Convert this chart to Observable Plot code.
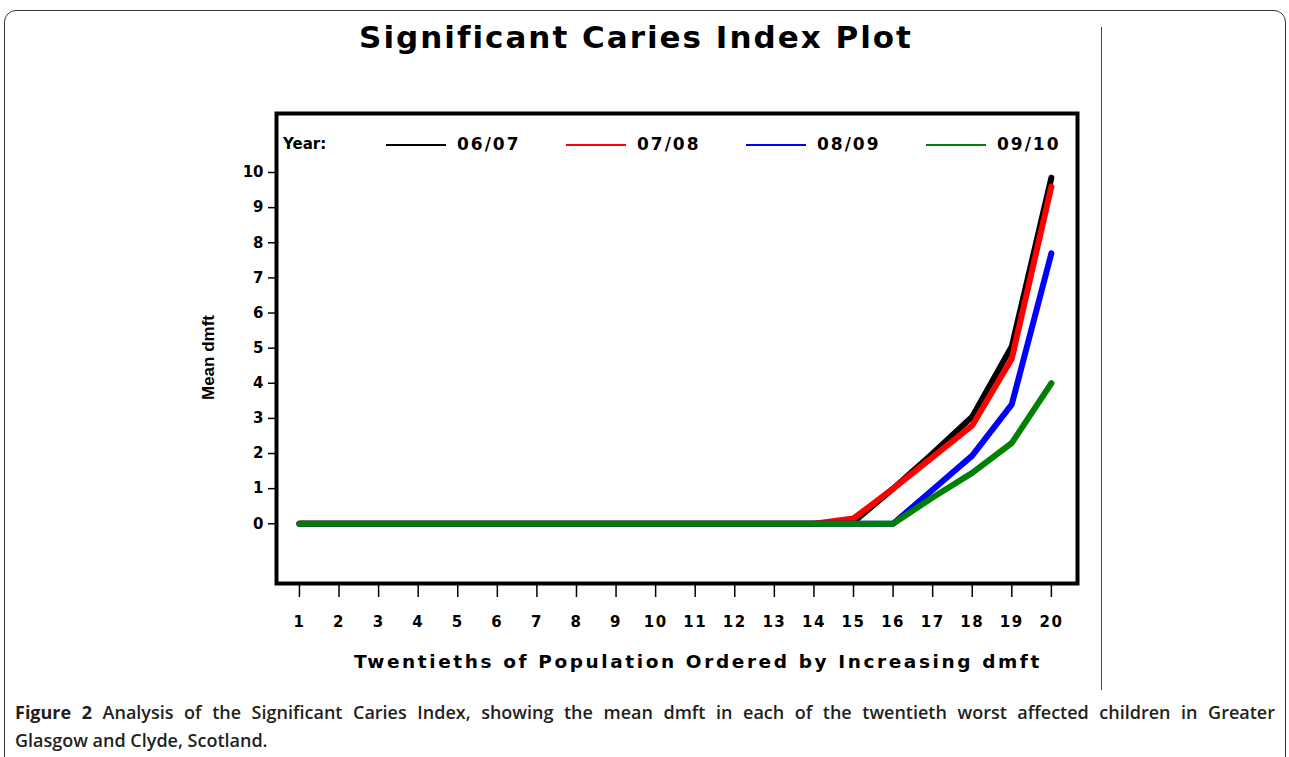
<!DOCTYPE html>
<html>
<head>
<meta charset="utf-8">
<script src="https://cdn.jsdelivr.net/npm/d3@7"></script>
<script src="https://cdn.jsdelivr.net/npm/@observablehq/plot@0.6"></script>
<style>
  html, body { margin: 0; padding: 0; background: #fff; }
  #page { position: relative; width: 1289px; height: 757px; overflow: hidden; }
  #box { position: absolute; left: 4px; top: 10px; width: 1282px; height: 800px;
         border: 1.5px solid #333; border-radius: 12px; box-sizing: border-box; }
  #vline { position: absolute; left: 1101px; top: 27px; width: 1px; height: 663px; background: #444; }
  #chart { position: absolute; left: 0; top: 0; }
  #title { position: absolute; left: 336px; width: 600px; top: 19px; text-align: center;
           font-family: "DejaVu Sans", sans-serif; font-weight: bold; font-size: 31px;
           letter-spacing: 2px; color: #000; white-space: nowrap; }
  .leg { position: absolute; top: 135px; font-family: "DejaVu Sans", sans-serif; font-weight: bold;
         font-size: 15px; color: #000; white-space: nowrap; }
  .legnum { font-size: 17px; letter-spacing: 2px; top: 134px; }
  .legline { position: absolute; top: 144px; height: 1.5px; width: 60px; }
  #caption { position: absolute; left: 15px; width: 1260px; top: 698px;
             font-family: "Open Sans", sans-serif; font-size: 18px; line-height: 28px; color: #231f20;
             font-weight: 600; }
  #cap1 { text-align: justify; text-align-last: justify; white-space: nowrap; }
</style>
</head>
<body>
<div id="page">
  <div id="box"></div>
  <div id="vline"></div>
  <div id="chart"></div>
  <div id="title">Significant Caries Index Plot</div>
  <div id="legend"></div>
  <div id="caption">
    <div id="cap1"><span style="font-weight:700">Figure 2</span> Analysis of the Significant Caries Index, showing the mean dmft in each of the twentieth worst affected children in Greater</div>
    <div>Glasgow and Clyde, Scotland.</div>
  </div>
</div>
<script>
// ---- data ----
const twentieths = d3.range(1, 21);
const years = ["06/07", "07/08", "08/09", "09/10"];
const colors = ["#000000", "#ff0000", "#0000ff", "#008000"];
const v0607 = [0,0,0,0,0,0,0,0,0,0,0,0,0,0, 0.05, 1.0, 2.0, 3.05, 5.05, 9.85];
const v0708 = [0,0,0,0,0,0,0,0,0,0,0,0,0,0, 0.15, 1.0, 1.9, 2.8, 4.7, 9.6];
const v0809 = [0,0,0,0,0,0,0,0,0,0,0,0,0,0, 0, 0, 0.97, 1.94, 3.4, 7.7];
const v0910 = [0,0,0,0,0,0,0,0,0,0,0,0,0,0, 0, 0, 0.75, 1.45, 2.3, 4.0];
const yTicks = [0,1,2,3,4,5,6,7,8,9,10];
const xLabel = "Twentieths of Population Ordered by Increasing dmft";
const yLabel = "Mean dmft";

const series = [v0607, v0708, v0809, v0910];
const rows = [];
series.forEach((vals, i) => vals.forEach((v, j) => rows.push({year: years[i], x: twentieths[j], y: v})));

const tickFont = "DejaVu Sans, sans-serif";
const chart = Plot.plot({
  width: 1100,
  height: 690,
  marginLeft: 276,
  marginRight: 23,
  marginTop: 113,
  marginBottom: 107,
  style: {background: "transparent", color: "#000"},
  x: {domain: [0.42, 20.66]},
  y: {domain: [-1.7, 11.68]},
  color: {domain: years, range: colors},
  marks: [
    Plot.axisY({ticks: yTicks, tickSize: 8, tickPadding: 5, label: null,
      fontFamily: tickFont, fontWeight: "bold", fontSize: 15, strokeWidth: 1.5}),
    Plot.axisX({ticks: twentieths, tickSize: 14, tickPadding: 19, label: null,
      tickFormat: d => String(d), fontFamily: tickFont, fontWeight: "bold", fontSize: 15, strokeWidth: 1.5}),
    Plot.text([yLabel], {text: d => d, frameAnchor: "left", textAnchor: "middle", rotate: -90, dx: -68, dy: 9,
      fontFamily: "Liberation Sans, sans-serif", fontWeight: "bold", fontSize: 17}),
    Plot.text([xLabel], {text: d => d, frameAnchor: "bottom", dy: 84, dx: 21,
      fontFamily: "DejaVu Sans, sans-serif", fontWeight: "bold", fontSize: 18.5}),
    Plot.line(rows, {x: "x", y: "y", z: "year", stroke: "year", strokeWidth: 6,
      strokeLinecap: "round", strokeLinejoin: "round"}),
    Plot.frame({stroke: "#000", strokeWidth: 4})
  ]
});
document.getElementById("chart").appendChild(chart);
chart.querySelectorAll("text").forEach(t => {
  if (t.textContent === xLabel) t.setAttribute("letter-spacing", "2.6");
});
chart.querySelectorAll("g[aria-label='x-axis tick label'] text").forEach(t => t.setAttribute("letter-spacing", "1.5"));

// legend
const legend = document.getElementById("legend");
const yearLab = document.createElement("div");
yearLab.className = "leg"; yearLab.style.left = "283px"; yearLab.textContent = "Year:";
legend.appendChild(yearLab);
years.forEach((y, i) => {
  const ln = document.createElement("div");
  ln.className = "legline"; ln.style.left = (386 + 180 * i) + "px"; ln.style.background = colors[i];
  legend.appendChild(ln);
  const lb = document.createElement("div");
  lb.className = "leg legnum"; lb.style.left = (457 + 180 * i) + "px"; lb.textContent = y;
  legend.appendChild(lb);
});
</script>
</body>
</html>
